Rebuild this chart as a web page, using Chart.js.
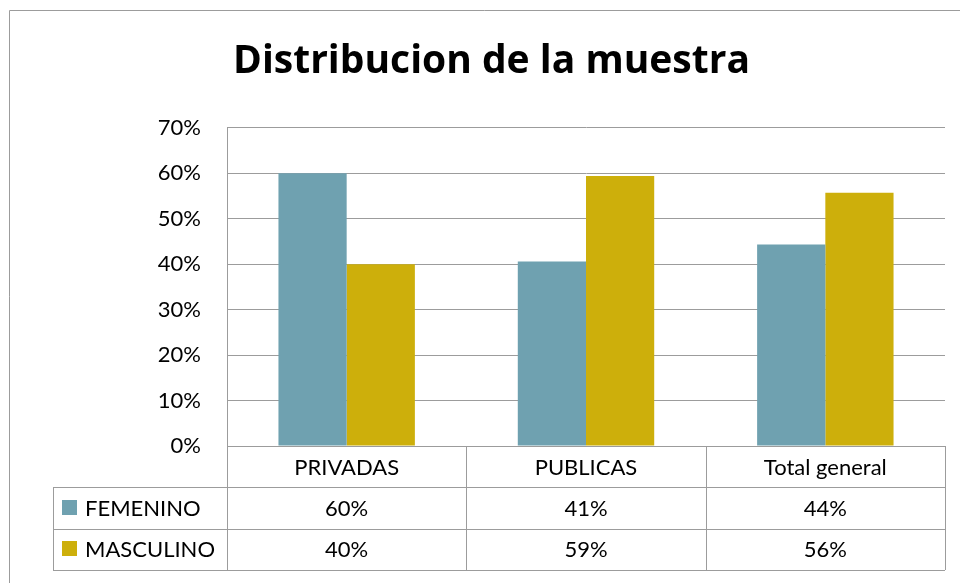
<!DOCTYPE html>
<html>
<head>
<meta charset="utf-8">
<title>Distribucion de la muestra</title>
<script src="https://cdn.jsdelivr.net/npm/chart.js@4/dist/chart.umd.min.js"></script>
<style>
  html, body { margin: 0; padding: 0; background: #fff; }
  #wrap { width: 960px; height: 583px; }
</style>
</head>
<body>
<div id="wrap"><canvas id="chart" width="960" height="583"></canvas></div>
<script>
// Chart data (percent)
const categories = ["PRIVADAS", "PUBLICAS", "Total general"];
const seriesNames = ["FEMENINO", "MASCULINO"];
const femenino = [60, 40.6, 44.3];
const masculino = [40, 59.4, 55.7];
const yTicks = [0, 10, 20, 30, 40, 50, 60, 70];

const COLORS = ["#6fa1b0", "#cdaf0b"];
const LINE = "#9c9c9c";
const FONT = "Lato, 'Open Sans', sans-serif";
const TITLE_FONT = "'Open Sans', Lato, sans-serif";

// outer frame of the chart object (only top and left edges are in view)
const framePlugin = {
  id: "frame",
  beforeDraw(chart) {
    const ctx = chart.ctx;
    ctx.save();
    ctx.strokeStyle = LINE;
    ctx.lineWidth = 1;
    ctx.beginPath();
    ctx.moveTo(9.5, chart.height);
    ctx.lineTo(9.5, 10.5);
    ctx.lineTo(chart.width, 10.5);
    ctx.stroke();
    ctx.restore();
  },
};

// Excel-style data table under the plot, with legend keys
const dataTablePlugin = {
  id: "dataTable",
  afterDraw(chart) {
    const ctx = chart.ctx;
    const xs = chart.scales.x;
    const n = categories.length;
    const colW = xs.width / n;
    const rowH = xs.height / (seriesNames.length + 1);
    const top = xs.top;
    const legendLeft = xs.left - 174;
    const snap = (v) => Math.round(v) + 0.5;

    ctx.save();
    ctx.strokeStyle = LINE;
    ctx.lineWidth = 1;
    ctx.beginPath();
    // horizontal lines
    for (let r = 0; r <= seriesNames.length + 1; r++) {
      const y = snap(top + r * rowH);
      ctx.moveTo(r === 0 ? xs.left : legendLeft, y);
      ctx.lineTo(xs.right, y);
    }
    // vertical lines
    for (let c = 0; c <= n; c++) {
      const x = snap(xs.left + c * colW);
      ctx.moveTo(x, top);
      ctx.lineTo(x, xs.bottom);
    }
    ctx.moveTo(snap(legendLeft), snap(top + rowH));
    ctx.lineTo(snap(legendLeft), snap(xs.bottom));
    ctx.stroke();

    ctx.fillStyle = "#000";
    ctx.font = "22px " + FONT;
    ctx.textBaseline = "middle";
    ctx.textAlign = "center";
    categories.forEach((cat, i) => {
      ctx.fillText(cat, xs.getPixelForValue(i), top + rowH / 2 + 1);
    });

    chart.data.datasets.forEach((ds, r) => {
      const yMid = top + (r + 1.5) * rowH;
      ctx.fillStyle = ds.backgroundColor;
      ctx.fillRect(legendLeft + 9, Math.round(yMid - 8), 15, 15);
      ctx.fillStyle = "#000";
      ctx.textAlign = "left";
      ctx.fillText(ds.label, legendLeft + 32, yMid + 1);
      ctx.textAlign = "center";
      ds.data.forEach((v, i) => {
        ctx.fillText(Math.round(v) + "%", xs.getPixelForValue(i), yMid + 1);
      });
    });
    ctx.restore();
  },
};

new Chart(document.getElementById("chart"), {
  type: "bar",
  data: {
    labels: categories,
    datasets: [
      { label: seriesNames[0], data: femenino, backgroundColor: COLORS[0] },
      { label: seriesNames[1], data: masculino, backgroundColor: COLORS[1] },
    ],
  },
  options: {
    responsive: false,
    animation: false,
    layout: { padding: { left: 38, right: 15, top: 0, bottom: 13 } },
    datasets: {
      bar: { categoryPercentage: 0.57, barPercentage: 1.0 },
    },
    plugins: {
      legend: { display: false },
      tooltip: { enabled: false },
      title: {
        display: true,
        text: "Distribucion de la muestra",
        color: "#000",
        font: { family: TITLE_FONT, size: 39, weight: "bold", lineHeight: 1.2 },
        padding: { top: 38, bottom: 43 },
      },
    },
    scales: {
      x: {
        ticks: { display: false },
        grid: { display: false },
        border: { display: false },
        afterFit: (scale) => { scale.height = 124; },
      },
      y: {
        min: 0,
        max: 70,
        afterBuildTicks: (scale) => {
          scale.ticks = yTicks.map((v) => ({ value: v }));
        },
        ticks: {
          callback: (v) => v + "%",
          color: "#000",
          padding: 26,
          font: { family: FONT, size: 22 },
        },
        grid: { color: LINE, drawTicks: false },
        border: { display: true, color: LINE },
        afterFit: (scale) => { scale.width = 189; },
      },
    },
  },
  plugins: [framePlugin, dataTablePlugin],
});
</script>
</body>
</html>
